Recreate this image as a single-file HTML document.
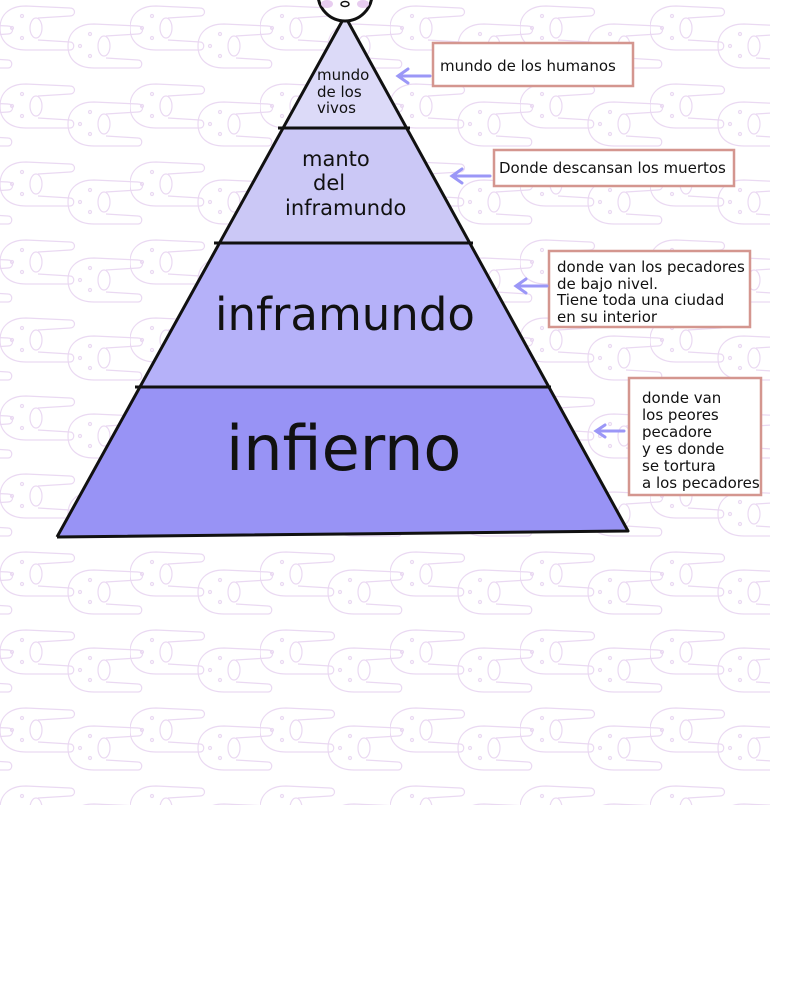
<!DOCTYPE html>
<html><head><style>
body{margin:0;width:800px;height:1000px;background:#fff;overflow:hidden;font-family:"DejaVu Sans","Liberation Sans",sans-serif;}
svg{position:absolute;left:0;top:0}
</style></head><body>
<svg width="800" height="1000" viewBox="0 0 800 1000">
<defs>
<g id="b" fill="none" stroke="#ead9f2" stroke-width="1.2">
<path d="M28 4 C10 4 2 14 2 26 C2 40 12 48 28 48 L72 48 C77 48 77 40 72 40 L40 38 M28 4 L72 6 C78 6 78 14 72 14 L40 16"/>
<circle cx="24" cy="14" r="1.5"/><circle cx="14" cy="26" r="1.5"/><circle cx="24" cy="36" r="1.5"/>
<ellipse cx="38" cy="26" rx="6" ry="10"/>
</g>
<pattern id="p" width="130" height="78" patternUnits="userSpaceOnUse">
<use href="#b" x="-2" y="2"/><use href="#b" x="66" y="20"/><use href="#b" x="-64" y="20"/><use href="#b" x="66" y="-58"/><use href="#b" x="-64" y="-58"/>
</pattern>
</defs>
<rect x="0" y="0" width="770" height="805" fill="url(#p)"/>
<polygon points="345,16 283,128 407,128" fill="#dcdaf8"/>
<polygon points="283,128 407,128 470,243 220,243" fill="#cbc8f6"/>
<polygon points="220,243 470,243 549,387 140,387" fill="#b5b1f9"/>
<polygon points="140,387 549,387 628,531 57,537" fill="#9893f5"/>
<g stroke="#111" stroke-width="3" fill="none" stroke-linejoin="round">
<polyline points="57,537 345,16 628,531 57,537"/>
<line x1="278" y1="128" x2="410" y2="128"/>
<line x1="214" y1="243" x2="473" y2="243"/>
<line x1="135" y1="387" x2="551" y2="387"/>
</g>
<circle cx="345" cy="-6" r="27" fill="#fff" stroke="#111" stroke-width="3"/>
<ellipse cx="327" cy="4" rx="6" ry="4" fill="#e8cdf0"/><ellipse cx="363" cy="4" rx="6" ry="4" fill="#e8cdf0"/>
<ellipse cx="345" cy="4" rx="4" ry="2.5" fill="#fff" stroke="#111" stroke-width="1.5"/>
<g fill="#111">
<text x="317" y="80" font-size="15">mundo</text>
<text x="317" y="97" font-size="15">de los</text>
<text x="317" y="113" font-size="15">vivos</text>
<text x="302" y="166" font-size="21">manto</text>
<text x="313" y="190" font-size="21">del</text>
<text x="285" y="215" font-size="21">inframundo</text>
<text x="215" y="330" font-size="45">inframundo</text>
<text x="226" y="470" font-size="62">infierno</text>
</g>
<g fill="#fff" stroke="#d4968f" stroke-width="2.5">
<rect x="433" y="43" width="200" height="43"/>
<rect x="494" y="150" width="240" height="36"/>
<rect x="549" y="251" width="201" height="76"/>
<rect x="629" y="378" width="132" height="117"/>
</g>
<g fill="#111" font-size="15">
<text x="440" y="71">mundo de los humanos</text>
<text x="499" y="173">Donde descansan los muertos</text>
<text x="557" y="272">donde van los pecadores</text>
<text x="557" y="289">de bajo nivel.</text>
<text x="557" y="305">Tiene toda una ciudad</text>
<text x="557" y="322">en su interior</text>
<text x="642" y="403">donde van</text>
<text x="642" y="420">los peores</text>
<text x="642" y="437">pecadore</text>
<text x="642" y="454">y es donde</text>
<text x="642" y="471">se tortura</text>
<text x="642" y="488">a los pecadores</text>
</g>
<g stroke="#9b97f7" stroke-width="3" fill="none" stroke-linecap="round">
<path d="M430 76 L398 76 M408 69 L398 76 L408 83"/>
<path d="M490 176 L452 176 M462 169 L452 176 L462 183"/>
<path d="M547 286 L516 286 M526 279 L516 286 L526 293"/>
<path d="M624 431 L596 431 M605 425 L596 431 L605 437"/>
</g>
</svg>
</body></html>
